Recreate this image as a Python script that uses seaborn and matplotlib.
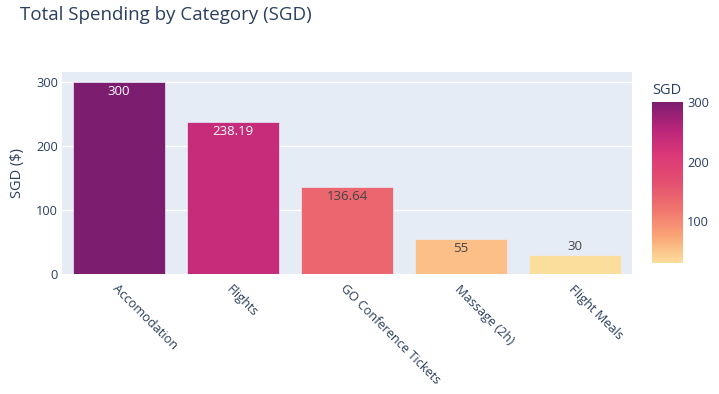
import matplotlib
matplotlib.use("Agg")
import matplotlib.pyplot as plt
import matplotlib.colors as mcolors
import seaborn as sns
import pandas as pd
import numpy as np

categories = ["Accomodation", "Flights", "GO Conference Tickets", "Massage (2h)", "Flight Meals"]
values = [300, 238.19, 136.64, 55, 30]
labels = ["300", "238.19", "136.64", "55", "30"]
cbar_ticks = [100, 200, 300]

sns.set_theme(style="white")
plt.rcParams['font.family'] = ['Open Sans', 'DejaVu Sans']
TXT = "#2a3f5f"

sunsetdark = ["#fcde9c", "#faa476", "#f0746e", "#e34f6f", "#dc3977", "#b9257a", "#7c1d6f"]
cmap = mcolors.LinearSegmentedColormap.from_list("sunsetdark", sunsetdark)
norm = mcolors.Normalize(vmin=min(values), vmax=max(values))

df = pd.DataFrame({"category": categories, "value": values})
palette = {c: cmap(norm(v)) for c, v in zip(categories, values)}

fig = plt.figure(figsize=(7.19, 3.94), dpi=100)
ax = fig.add_axes([62/719, 1-274/394, (632-62)/719, (274-72)/394])
ax.set_facecolor("#E5ECF6")
sns.barplot(data=df, x="category", y="value", hue="category", palette=palette,
            legend=False, width=0.8, saturation=1, ax=ax, edgecolor="#E5ECF6",
            linewidth=0.5, zorder=3)
ax.set_ylim(0, 315.8)
ax.set_xlim(-0.5, 4.5)
ax.yaxis.grid(True, color="white", linewidth=1, zorder=0)
ax.set_axisbelow(True)
for s in ax.spines.values():
    s.set_visible(False)
ax.set_yticks([0, 100, 200, 300])
ax.tick_params(axis="both", length=0, colors=TXT, labelsize=9.2)
ax.tick_params(axis="y", pad=3)
ax.set_xlabel("")
ax.set_ylabel("SGD ($)", color=TXT, fontsize=10.5, labelpad=8)
ax.set_xticks(range(len(categories)))
ax.set_xticklabels(categories, rotation=-45, ha="left", rotation_mode="anchor", color=TXT, fontsize=9.2)
ax.tick_params(axis="x", pad=6)

for i, (v, lab) in enumerate(zip(values, labels)):
    c = norm(v)
    if v >= 50:
        col = "white" if c > 0.6 else "#444444"
        ax.text(i, v - 5, lab, ha="center", va="top", color=col, fontsize=9.5, zorder=4)
    else:
        ax.text(i, v + 3, lab, ha="center", va="bottom", color="#444444", fontsize=9.5, zorder=4)

fig.text(20/719, 1-15/394, "Total Spending by Category (SGD)", ha="left", va="center",
         color=TXT, fontsize=13.5)

cax = fig.add_axes([652/719, 1-263/394, (683-652)/719, (263-102)/394])
sm = plt.cm.ScalarMappable(norm=norm, cmap=cmap)
cb = fig.colorbar(sm, cax=cax, ticks=cbar_ticks)
cb.outline.set_visible(False)
cax.tick_params(length=0, colors=TXT, labelsize=9.2, pad=3)
fig.text(652/719, 1-90/394, "SGD", ha="left", va="center", color=TXT, fontsize=10.5)

fig.savefig("out.png", dpi=100)
